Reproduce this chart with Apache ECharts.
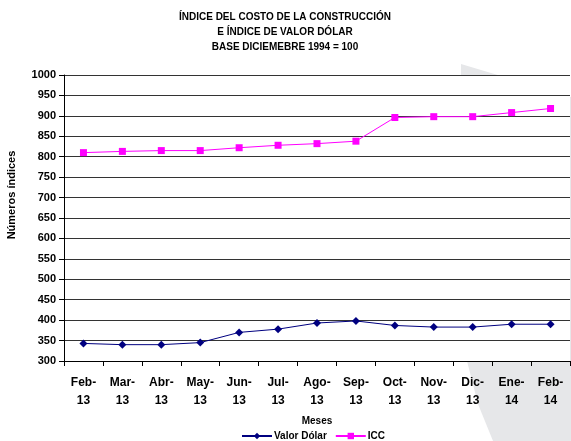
<!DOCTYPE html>
<html>
<head>
<meta charset="utf-8">
<script src="https://cdn.jsdelivr.net/npm/echarts@6/dist/echarts.min.js"></script>
<style>
  html, body { margin: 0; padding: 0; background: #fff; }
  #chart { width: 571px; height: 441px; }
</style>
</head>
<body>
<div id="chart"></div>
<script>
const meses = ['Feb-13', 'Mar-13', 'Abr-13', 'May-13', 'Jun-13', 'Jul-13', 'Ago-13', 'Sep-13', 'Oct-13', 'Nov-13', 'Dic-13', 'Ene-14', 'Feb-14'];
const valorDolar = [343, 340, 340, 345, 370, 378, 393, 398, 387, 383, 383, 390, 390];
const icc = [810, 813, 815, 815, 822, 828, 832, 838, 896, 898, 898, 908, 918];
const yTicks = { min: 300, max: 1000, step: 50 };

const font = 'Liberation Sans, Arial, sans-serif';
const chart = echarts.init(document.getElementById('chart'));

const option = {
  animation: false,
  backgroundColor: '#fff',
  textStyle: { fontFamily: font },
  title: {
    text: 'ÍNDICE DEL COSTO DE LA CONSTRUCCIÓN\nE ÍNDICE DE VALOR DÓLAR\nBASE DICIEMEBRE 1994 = 100',
    left: 280,
    top: 5,
    textAlign: 'center',
    textStyle: { fontSize: 10, fontWeight: 'bold', color: '#000', lineHeight: 15, fontFamily: font, letterSpacing: -0.3 }
  },
  graphic: [
    {
      type: 'polygon',
      z: -5,
      shape: {
        points: [[461, 64], [571, 97], [571, 441], [493, 441], [478, 404], [467, 361], [460, 200]]
      },
      style: { fill: '#e6e7e9' }
    },
    {
      type: 'text',
      x: 12,
      y: 195,
      rotation: Math.PI / 2,
      style: {
        text: 'Números índices',
        font: 'bold 11px ' + font,
        fill: '#000',
        align: 'center',
        verticalAlign: 'middle'
      }
    }
  ],
  legend: {
    top: 426,
    left: 236,
    itemWidth: 30,
    itemHeight: 8,
    itemGap: 8,
    textStyle: { fontSize: 10, fontWeight: 'bold', color: '#000', fontFamily: font, padding: [0, 0, 0, -3] },
    data: ['Valor Dólar', 'ICC']
  },
  grid: {
    left: 64,
    right: 1,
    top: 75,
    bottom: 80,
    show: true,
    backgroundColor: '#fff',
    borderWidth: 0,
    z: 0
  },
  xAxis: {
    type: 'category',
    data: meses,
    boundaryGap: true,
    name: 'Meses',
    nameLocation: 'middle',
    nameGap: 55,
    nameTextStyle: { fontSize: 10, fontWeight: 'bold', color: '#000', fontFamily: font, letterSpacing: 1 },
    axisLine: { lineStyle: { color: '#000', width: 1 } },
    axisTick: { show: true, length: 5, lineStyle: { color: '#000' }, alignWithLabel: false },
    axisLabel: {
      interval: 0,
      margin: 13,
      fontSize: 12,
      fontWeight: 'bold',
      color: '#000',
      lineHeight: 18,
      fontFamily: font,
      formatter: v => v.replace('-', '-\n')
    },
    splitLine: { show: false }
  },
  yAxis: {
    type: 'value',
    min: yTicks.min,
    max: yTicks.max,
    interval: yTicks.step,
    axisLine: { show: true, lineStyle: { color: '#000', width: 1 } },
    axisTick: { show: true, length: 5, lineStyle: { color: '#000' } },
    axisLabel: {
      margin: 8,
      fontSize: 11,
      fontWeight: 'bold',
      color: '#000',
      fontFamily: font,
      formatter: v => String(v)
    },
    splitLine: { show: true, lineStyle: { color: '#333', width: 1.2 } }
  },
  series: [
    {
      name: 'Valor Dólar',
      type: 'line',
      data: valorDolar,
      symbol: 'diamond',
      symbolSize: 8,
      color: '#000080',
      lineStyle: { width: 1, color: '#000080' },
      itemStyle: { color: '#000080' }
    },
    {
      name: 'ICC',
      type: 'line',
      data: icc,
      symbol: 'rect',
      symbolSize: 7,
      color: '#ff00ff',
      lineStyle: { width: 1, color: '#ff00ff' },
      itemStyle: { color: '#ff00ff' }
    }
  ]
};

chart.setOption(option);
</script>
</body>
</html>
